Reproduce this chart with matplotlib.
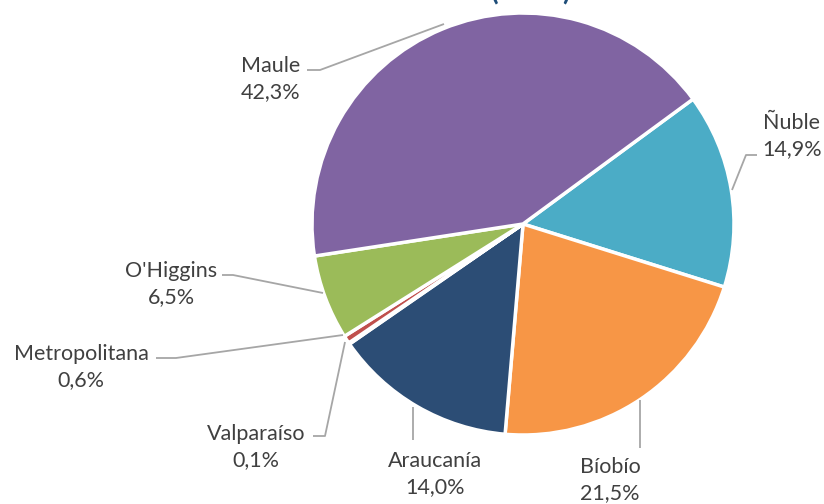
import matplotlib.pyplot as plt

plt.rcParams['font.family'] = ['Lato', 'DejaVu Sans']

regions = ['Ñuble', 'Bíobío', 'Araucanía', 'Valparaíso', 'Metropolitana', "O'Higgins", 'Maule']
shares = [14.9, 21.5, 14.0, 0.1, 0.6, 6.5, 42.3]
colors = ['#4BACC6', '#F79646', '#2C4D75', '#8C8C8C', '#C0504D', '#9BBB59', '#8064A2']

# label text centre and leader line (pixel coords, y from top)
label_pos = [(792, 136), (610, 480), (435, 474), (256, 447), (81, 367), (171, 284), (271, 79)]
leaders = [
    [(732, 190), (746, 155), (757, 155)],
    [(640, 400), (640, 448)],
    [(413, 407), (413, 440)],
    [(345, 342), (325, 436), (313, 436)],
    [(343, 335), (176, 358), (156, 358)],
    [(323, 293), (233, 275), (222, 275)],
    [(444, 24), (320, 70), (307, 70)],
]

W, H = 824, 504
fig = plt.figure(figsize=(W / 100, H / 100), dpi=100)
ax = fig.add_axes([0, 0, 1, 1])
ax.set_xlim(0, W)
ax.set_ylim(0, H)
ax.set_aspect('equal')
ax.axis('off')

ax.pie(shares, colors=colors, startangle=36.3, counterclock=False,
       center=(523, H - 224), radius=211,
       wedgeprops=dict(edgecolor='white', linewidth=2.5))

for name, val, (tx, ty), pts in zip(regions, shares, label_pos, leaders):
    xs = [p[0] for p in pts]
    ys = [H - p[1] for p in pts]
    ax.plot(xs, ys, color='#A6A6A6', lw=1.3, solid_capstyle='butt')
    pct = ('%.1f%%' % val).replace('.', ',')
    ax.text(tx, H - ty, name + '\n' + pct, ha='center', va='center',
            fontsize=15.5, color='#404040', linespacing=1.38)

# chart title, cut off by the top edge as in the original
fig.text(0.644, 1.0, '(2021)', ha='center', va='baseline',
         fontsize=20, fontweight='bold', color='#1F4E79')

ax.set_xlim(0, W)
ax.set_ylim(0, H)
fig.savefig('out.png', dpi=100)
